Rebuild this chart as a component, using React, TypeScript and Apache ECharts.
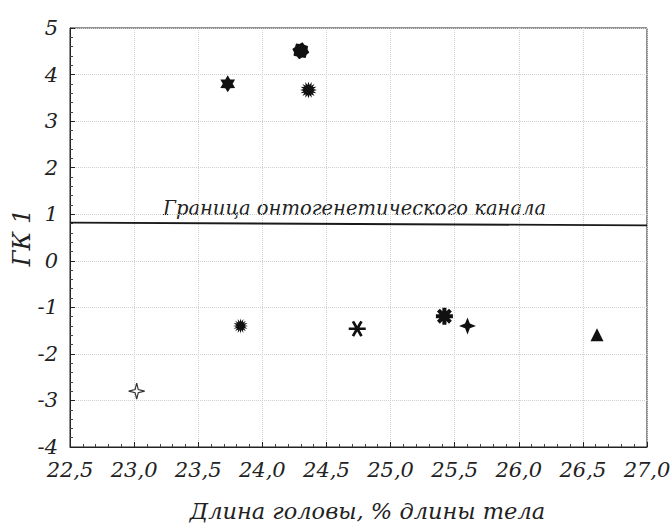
import React, { useEffect, useRef } from "react";
import * as echarts from "echarts";

const xValues = [23.73, 24.3, 24.36, 23.83, 24.74, 25.42, 25.6, 26.61, 23.02];
const yValues = [3.8, 4.51, 3.67, -1.4, -1.46, -1.19, -1.4, -1.59, -2.8];
const markerKinds = ["hexagram", "octoBlob", "sunburst", "sunburstSmall", "asterisk", "boldAsterisk", "fourStar", "triangle", "thinFourStar"];
const boundaryX = [22.5, 27.0];
const boundaryY = [0.82, 0.76];
const boundaryLabel = "Граница онтогенетического канала";
const xTicks = ["22,5", "23,0", "23,5", "24,0", "24,5", "25,0", "25,5", "26,0", "26,5", "27,0"];
const xAxisName = "Длина головы, % длины тела";
const yAxisName = "ГК 1";

function star(n: number, ro: number, ri: number, rot = -90) {
  let d = "";
  for (let k = 0; k < 2 * n; k++) {
    const a = ((rot + (k * 180) / n) * Math.PI) / 180;
    const r = k % 2 ? ri : ro;
    d += (k ? "L" : "M") + (50 + r * Math.cos(a)).toFixed(2) + " " + (50 + r * Math.sin(a)).toFixed(2);
  }
  return "path://" + d + "Z";
}

function spokes(n: number, R: number, hw: number, rot = -90) {
  let d = "";
  const half = 180 / n;
  const rin = hw / Math.sin((half * Math.PI) / 180);
  for (let i = 0; i < n; i++) {
    const t = ((rot + (i * 360) / n) * Math.PI) / 180;
    const dx = Math.cos(t), dy = Math.sin(t);
    const px = -Math.sin(t), py = Math.cos(t);
    const p1 = [50 + R * dx - hw * px, 50 + R * dy - hw * py];
    const p2 = [50 + R * dx + hw * px, 50 + R * dy + hw * py];
    const ti = t + (half * Math.PI) / 180;
    const p3 = [50 + rin * Math.cos(ti), 50 + rin * Math.sin(ti)];
    d += (i ? "L" : "M") + p1[0].toFixed(2) + " " + p1[1].toFixed(2);
    d += "L" + p2[0].toFixed(2) + " " + p2[1].toFixed(2);
    d += "L" + p3[0].toFixed(2) + " " + p3[1].toFixed(2);
  }
  return "path://" + d + "Z";
}

const symbolDefs: Record<string, { symbol: string; size: number; color: string; border?: string }> = {
  hexagram: { symbol: star(6, 50, 29), size: 17, color: "#111" },
  octoBlob: { symbol: star(8, 50, 40, -90 + 22.5 / 2), size: 17, color: "#111" },
  sunburst: { symbol: star(16, 50, 30), size: 17, color: "#111" },
  sunburstSmall: { symbol: star(16, 50, 28), size: 15, color: "#111" },
  asterisk: { symbol: spokes(6, 50, 8, 0), size: 17, color: "#111" },
  boldAsterisk: { symbol: spokes(8, 50, 12), size: 17, color: "#111" },
  fourStar: { symbol: star(4, 50, 20), size: 17, color: "#111" },
  triangle: { symbol: "triangle", size: 13, color: "#111" },
  thinFourStar: { symbol: star(4, 50, 14), size: 16, color: "#ffffff", border: "#333" },
};

export default function App() {
  const ref = useRef<HTMLDivElement>(null);
  useEffect(() => {
    if (!ref.current) return;
    const chart = echarts.init(ref.current, null, { renderer: "svg" });
    const font = "DejaVu Serif";
    const scatterData = xValues.map((x, i) => {
      const def = symbolDefs[markerKinds[i]];
      return {
        value: [x, yValues[i]],
        symbol: def.symbol,
        symbolSize: def.size,
        symbolKeepAspect: true,
        itemStyle: {
          color: def.color,
          opacity: 1,
          borderColor: def.border || def.color,
          borderWidth: def.border ? 1.2 : 0,
        },
      };
    });
    chart.setOption({
      animation: false,
      backgroundColor: "#fff",
      grid: {
        left: 70,
        right: 23,
        top: 28,
        bottom: 84,
        outerBoundsMode: "none",
        containLabel: false,
        show: true,
        borderColor: "#222",
        borderWidth: 1,
      },
      xAxis: {
        type: "value",
        min: 22.5,
        max: 27.0,
        interval: 0.5,
        name: xAxisName,
        nameLocation: "middle",
        nameGap: 52,
        nameTextStyle: { fontFamily: font, fontStyle: "italic", fontSize: 22.5, color: "#222", padding: [0, 0, 0, 18] },
        axisLine: { show: true, onZero: false, lineStyle: { color: "#222", width: 1 } },
        axisTick: { show: true, inside: true, length: 5, lineStyle: { color: "#222" } },
        minorTick: { show: true, splitNumber: 5, length: 3, lineStyle: { color: "#444" } },
        splitLine: { show: true, lineStyle: { type: "dotted", color: "#d0d0d0", width: 1 } },
        axisLabel: {
          fontFamily: font,
          fontStyle: "italic",
          fontSize: 21,
          color: "#222",
          margin: 12,
          formatter: (v: number) => {
            const idx = Math.round((v - 22.5) / 0.5);
            return xTicks[idx] ?? "";
          },
        },
      },
      yAxis: {
        type: "value",
        min: -4,
        max: 5,
        interval: 1,
        name: yAxisName,
        nameLocation: "middle",
        nameGap: 36,
        nameMoveOverlap: false,
        nameRotate: 90,
        nameTextStyle: { fontFamily: font, fontStyle: "italic", fontSize: 24, color: "#222" },
        axisLine: { show: true, onZero: false, lineStyle: { color: "#222", width: 1 } },
        axisTick: { show: true, inside: true, length: 5, lineStyle: { color: "#222" } },
        minorTick: { show: true, splitNumber: 5, length: 3, lineStyle: { color: "#444" } },
        splitLine: { show: true, lineStyle: { type: "dotted", color: "#d0d0d0", width: 1 } },
        axisLabel: {
          fontFamily: font,
          fontStyle: "italic",
          fontSize: 21,
          color: "#222",
          margin: 12,
        },
      },
      series: [
        {
          type: "line",
          data: boundaryX.map((x, i) => [x, boundaryY[i]]),
          symbol: "none",
          lineStyle: { color: "#1a1a1a", width: 1.8 },
          silent: true,
          z: 1,
        },
        {
          type: "scatter",
          data: scatterData,
          z: 3,
        },
      ],
      graphic: [
        {
          type: "text",
          left: 163,
          top: 198,
          style: {
            text: boundaryLabel,
            fontFamily: font,
            fontStyle: "italic",
            fontSize: 19.5,
            fill: "#222",
          },
        },
      ],
    });
    return () => chart.dispose();
  }, []);
  return <div ref={ref} style={{ position: "absolute", left: 0, top: 0, width: 670, height: 531 }} />;
}
